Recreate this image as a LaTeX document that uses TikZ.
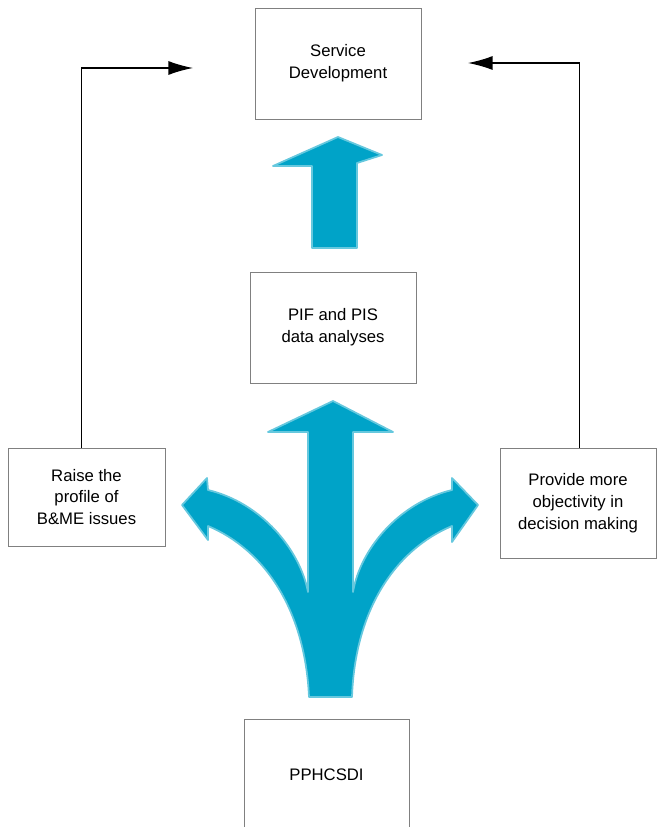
\documentclass[tikz,border=0pt]{standalone}
\usepackage{fontspec}
\setmainfont{Liberation Sans}
\usetikzlibrary{arrows.meta}
\definecolor{forkblue}{RGB}{0,163,200}
\tikzset{
  box/.style={draw=black!50,line width=0.5pt,align=center,font=\fontsize{9.5}{12.5}\selectfont},
  fb/.style={line width=0.8pt,-{Latex[length=14pt,width=8pt]}},
  fork/.style={fill=forkblue,draw=forkblue!60,line width=1pt,line join=round}
}
\begin{document}
\begin{tikzpicture}[x=0.02cm,y=-0.02cm]
\useasboundingbox (0,0) rectangle (657,827);
\node[box,minimum width=3.32cm,minimum height=2.22cm] (sd) at (338,63.5) {Service\\Development};
\node[box,minimum width=3.32cm,minimum height=2.22cm] (pif) at (333,327.5) {PIF and PIS\\data analyses};
\node[box,minimum width=3.14cm,minimum height=1.96cm] (raise) at (86.5,497) {Raise the\\profile of\\B\&ME issues};
\node[box,minimum width=3.12cm,minimum height=2.2cm] (provide) at (578,503) {Provide more\\objectivity in\\decision making};
\node[box,minimum width=3.3cm,minimum height=2.24cm] (pph) at (326.5,775) {PPHCSDI};
\coordinate (lt) at (193,68); \coordinate (rt) at (468,63);
\draw[fb] ([xshift=-3pt]raise.north) |- (lt);
\draw[fb] ([xshift=1pt]provide.north) |- (rt);
% small arrow
\filldraw[fork] (312,248)--(312,166)--(273,166)--(338,137)--(382,155)--(357,163)--(357,248)--cycle;
% fork arrow
\filldraw[fork] (309,697) .. controls (305,610) and (265,550) .. (208,526) -- (208,540) -- (182,505) -- (207,478) -- (208,490)
  .. controls (262,503) and (300,550) .. (308,592) -- (308,432) -- (268,432) -- (333,401) -- (393,432) -- (353,432) -- (353,592)
  .. controls (360,550) and (398,503) .. (452,490) -- (452,478) -- (478,505) -- (452,542) -- (452,526)
  .. controls (395,550) and (355,610) .. (352,697) -- cycle;
\end{tikzpicture}
\end{document}
